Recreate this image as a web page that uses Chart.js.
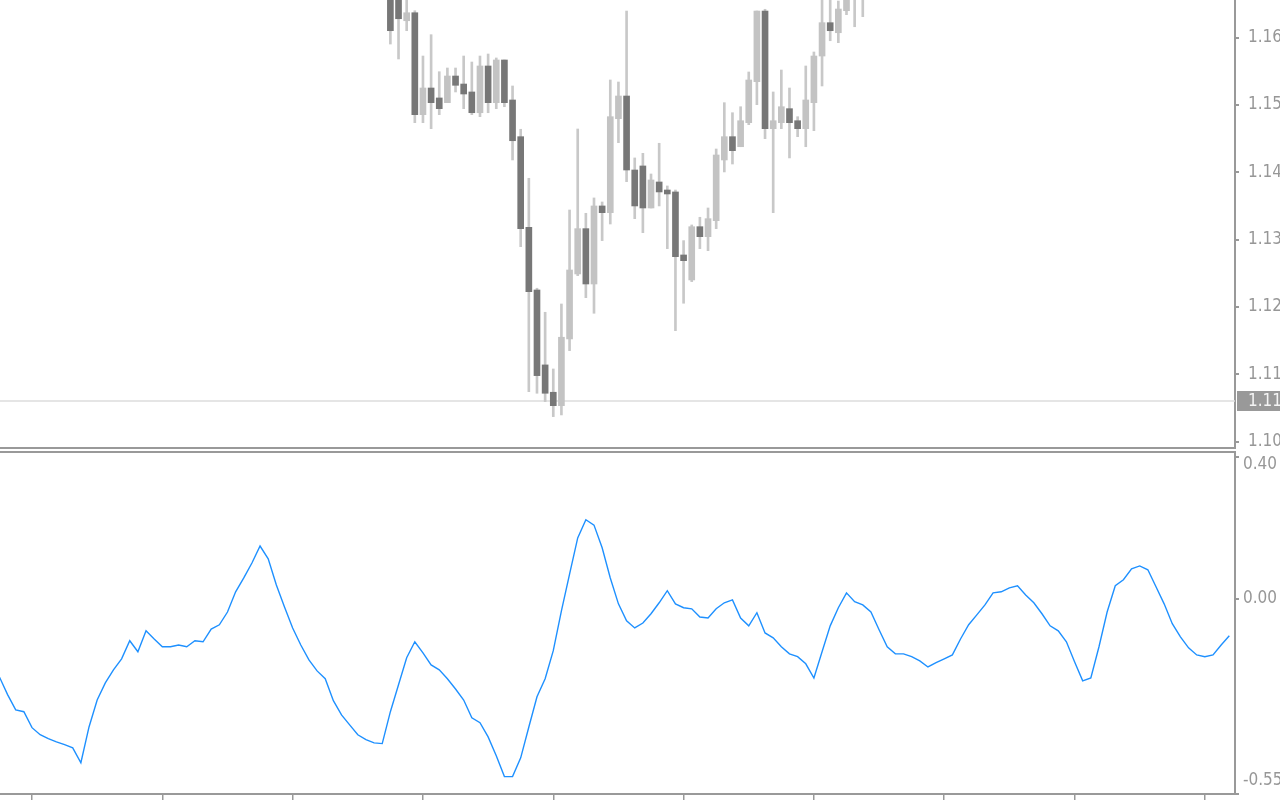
<!DOCTYPE html>
<html>
<head>
<meta charset="utf-8">
<script src="https://cdn.jsdelivr.net/npm/chart.js@4.4.1/dist/chart.umd.min.js"></script>
<style>
    body { margin: 0; background: #fff; width: 1280px; height: 800px; overflow: hidden; position: relative; }
    canvas { position: absolute; left: 0; }
    #price-chart { top: 0; }
    #osc-chart { top: 450px; }
</style>
</head>
<body>
<canvas id="price-chart" width="1280" height="449"></canvas>
<canvas id="osc-chart" width="1280" height="350"></canvas>
<script>
// candles (bar index -> OHLC)
const candleBars = [44, 45, 46, 47, 48, 49, 50, 51, 52, 53, 54, 55, 56, 57, 58, 59, 60, 61, 62, 63,
    64, 65, 66, 67, 68, 69, 70, 71, 72, 73, 74, 75, 76, 77, 78, 79, 80, 81, 82, 83,
    84, 85, 86, 87, 88, 89, 90, 91, 92, 93, 94, 95, 96, 97, 98, 99, 100, 101, 102];
const opens = [1.1688, 1.1674, 1.16252, 1.16371, 1.14857, 1.15253, 1.15105, 1.15035, 1.15431, 1.15312,
    1.15194, 1.14886, 1.15580, 1.15035, 1.15669, 1.15075, 1.14530, 1.13184, 1.12253, 1.11140,
    1.10734, 1.10535, 1.11526, 1.12491, 1.13164, 1.12342, 1.13501, 1.13401, 1.14797, 1.15134,
    1.14035, 1.14095, 1.13471, 1.13857, 1.13738, 1.13709, 1.12773, 1.12402, 1.13193, 1.13045,
    1.13282, 1.14184, 1.14530, 1.14381, 1.14738, 1.15347, 1.16396, 1.14649, 1.14738, 1.14946,
    1.14767, 1.14649, 1.15035, 1.15728, 1.16223, 1.16074, 1.16401, 1.1680, 1.1688];
const highs = [1.1702, 1.1690, 1.1668, 1.16401, 1.15728, 1.16045, 1.15495, 1.15550, 1.15550, 1.15728,
    1.15639, 1.15728, 1.15758, 1.15699, 1.15669, 1.15283, 1.14640, 1.13912, 1.12279, 1.11922,
    1.11080, 1.12045, 1.13441, 1.14644, 1.13392, 1.13620, 1.13560, 1.15372, 1.15342, 1.16396,
    1.14214, 1.14283, 1.13976, 1.14432, 1.13798, 1.13738, 1.12986, 1.13219, 1.13333, 1.13471,
    1.14347, 1.15035, 1.14886, 1.14975, 1.15491, 1.16396, 1.16422, 1.15194, 1.15520, 1.15253,
    1.14827, 1.15580, 1.15788, 1.1668, 1.1670, 1.16545, 1.1685, 1.1702, 1.1710];
const lows = [1.15906, 1.15684, 1.16104, 1.14738, 1.14738, 1.14649, 1.14857, 1.15035, 1.15194, 1.14946,
    1.14857, 1.14827, 1.14886, 1.14946, 1.14975, 1.14184, 1.12896, 1.10743, 1.10719, 1.10595,
    1.10372, 1.10397, 1.11352, 1.12466, 1.12139, 1.11907, 1.12986, 1.13233, 1.14441, 1.13862,
    1.13312, 1.13104, 1.13471, 1.13501, 1.12867, 1.11649, 1.12056, 1.12377, 1.12867, 1.12837,
    1.13164, 1.14006, 1.14124, 1.14381, 1.14708, 1.15005, 1.14500, 1.13401, 1.14649, 1.14214,
    1.14530, 1.14381, 1.14619, 1.15283, 1.15955, 1.15926, 1.16342, 1.16163, 1.16312];
const closes = [1.16104, 1.16282, 1.16371, 1.14857, 1.15253, 1.15035, 1.14946, 1.15431, 1.15293, 1.15164,
    1.14886, 1.15580, 1.15035, 1.15669, 1.15035, 1.14470, 1.13164, 1.12228, 1.10981, 1.10719,
    1.10535, 1.11551, 1.12550, 1.13164, 1.12342, 1.13501, 1.13401, 1.14827, 1.15134, 1.14035,
    1.13501, 1.13471, 1.13887, 1.13709, 1.13679, 1.12748, 1.12688, 1.13193, 1.13045, 1.13312,
    1.14258, 1.14530, 1.14322, 1.14767, 1.15372, 1.16396, 1.14649, 1.14767, 1.14975, 1.14738,
    1.14649, 1.15075, 1.15728, 1.16223, 1.16104, 1.16426, 1.1672, 1.1688, 1.1698];

// oscillator, one value per bar starting at bar -4
const oscFirstBar = -4;
const oscValues = [-0.220, -0.270, -0.313, -0.318, -0.363, -0.383, -0.394, -0.403, -0.411, -0.420,
    -0.462, -0.361, -0.285, -0.237, -0.200, -0.169, -0.118, -0.149, -0.090, -0.113,
    -0.135, -0.135, -0.130, -0.135, -0.118, -0.121, -0.085, -0.073, -0.037, 0.020,
    0.059, 0.101, 0.149, 0.113, 0.039, -0.023, -0.082, -0.130, -0.172, -0.203,
    -0.225, -0.287, -0.327, -0.355, -0.383, -0.397, -0.406, -0.408, -0.318, -0.242,
    -0.166, -0.121, -0.152, -0.186, -0.200, -0.225, -0.254, -0.285, -0.335, -0.349,
    -0.389, -0.442, -0.501, -0.501, -0.448, -0.361, -0.276, -0.225, -0.146, -0.034,
    0.070, 0.172, 0.223, 0.208, 0.144, 0.059, -0.014, -0.062, -0.082, -0.068,
    -0.042, -0.011, 0.023, -0.014, -0.025, -0.028, -0.051, -0.054, -0.028, -0.011,
    -0.003, -0.054, -0.076, -0.039, -0.096, -0.110, -0.135, -0.155, -0.163, -0.183,
    -0.223, -0.149, -0.076, -0.025, 0.017, -0.008, -0.017, -0.037, -0.087, -0.135,
    -0.155, -0.155, -0.163, -0.175, -0.192, -0.180, -0.169, -0.158, -0.113, -0.073,
    -0.045, -0.017, 0.017, 0.020, 0.031, 0.037, 0.011, -0.011, -0.042, -0.076,
    -0.090, -0.121, -0.177, -0.231, -0.223, -0.135, -0.037, 0.037, 0.054, 0.085,
    0.093, 0.082, 0.034, -0.014, -0.070, -0.107, -0.138, -0.158, -0.163, -0.158,
    -0.130, -0.104];

const priceTicks = [1.10, 1.11, 1.12, 1.13, 1.14, 1.15, 1.16];
const oscTicks = [0.40, 0.00, -0.55];
const oscTickLabels = ['0.40', '0.00', '-0.55'];
const timeTicks = [0, 16, 32, 48, 64, 80, 96, 112, 128, 144];
const bidPrice = 1.10604;
const bidText = '1.11045';

const fontFamily = "'DejaVu Sans Condensed', 'DejaVu Sans', sans-serif";
const axisFont = { family: fontFamily, size: 17 };
const axisColor = '#999999';
const labelColor = '#979797';
const axisBorder = { display: true, color: axisColor, width: 2 };
const barMin = -3.93, barMax = 147.7;

const bidLabelPlugin = {
    id: 'bidLabel',
    afterDraw(chart) {
        const { ctx, scales: { y } } = chart;
        const py = y.getPixelForValue(bidPrice);
        ctx.save();
        ctx.fillStyle = '#999999';
        ctx.fillRect(y.left + 2, py - 10, chart.width - y.left - 2, 20);
        ctx.fillStyle = '#f4f4f4';
        ctx.font = `17px ${fontFamily}`;
        ctx.textBaseline = 'middle';
        ctx.fillText(bidText, y.left + 13, py + 1);
        ctx.restore();
    }
};

const oscLabelPlugin = {
    id: 'oscLabels',
    afterDraw(chart) {
        const { ctx, scales: { y } } = chart;
        ctx.save();
        ctx.font = `17px ${fontFamily}`;
        ctx.fillStyle = labelColor;
        ctx.textBaseline = 'middle';
        oscTicks.forEach((v, i) => {
            const py = Math.min(Math.max(y.getPixelForValue(v), y.top + 13), y.bottom - 13);
            ctx.fillText(oscTickLabels[i], y.left + 8, py);
        });
        ctx.restore();
    }
};

const bodyData = candleBars.map((b, i) => ({ x: b, y: [opens[i], closes[i]] }));
const wickData = candleBars.map((b, i) => ({ x: b, y: [lows[i], highs[i]] }));
const bodyColors = candleBars.map((b, i) => closes[i] < opens[i] ? '#777777' : '#c3c3c3');

window.priceChart = new Chart(document.getElementById('price-chart').getContext('2d'), {
    type: 'bar',
    data: {
        datasets: [
            { type: 'line', data: [{ x: -5, y: bidPrice }, { x: 150, y: bidPrice }], borderColor: '#dcdcdc', borderWidth: 1.5, pointRadius: 0, order: 3, clip: 0 },
            { data: wickData, backgroundColor: '#c8c8c8', barThickness: 2, grouped: false, order: 2 },
            { data: bodyData, backgroundColor: bodyColors, barThickness: 6, grouped: false, minBarLength: 1, order: 1 }
        ]
    },
    options: {
        responsive: false,
        animation: false,
        events: [],
        layout: { padding: 0, autoPadding: false },
        plugins: { legend: { display: false }, tooltip: { enabled: false } },
        scales: {
            x: {
                type: 'linear', min: barMin, max: barMax, offset: false,
                ticks: { display: false },
                grid: { display: false },
                border: axisBorder,
                afterFit: s => { s.height = 1; s.paddingLeft = 0; s.paddingRight = 0; }
            },
            y: {
                position: 'right', min: 1.09906, max: 1.16560,
                afterBuildTicks: s => { s.ticks = priceTicks.map(v => ({ value: v })); },
                ticks: { callback: v => v.toFixed(5), color: labelColor, font: axisFont, padding: 9 },
                grid: { drawOnChartArea: false, tickLength: 4, color: axisColor, lineWidth: 2 },
                border: axisBorder,
                afterFit: s => { s.width = 45; s.paddingTop = 0; s.paddingBottom = 0; }
            }
        }
    },
    plugins: [bidLabelPlugin]
});

window.oscChart = new Chart(document.getElementById('osc-chart').getContext('2d'), {
    type: 'line',
    data: {
        datasets: [{
            data: oscValues.map((v, i) => ({ x: oscFirstBar + i, y: v })),
            borderColor: '#1e90ff',
            borderWidth: 1.4,
            pointRadius: 0,
            tension: 0
        }]
    },
    options: {
        responsive: false,
        animation: false,
        events: [],
        layout: { padding: 0, autoPadding: false },
        plugins: { legend: { display: false }, tooltip: { enabled: false } },
        scales: {
            x: {
                type: 'linear', min: barMin, max: barMax, offset: false,
                afterBuildTicks: s => { s.ticks = timeTicks.map(v => ({ value: v })); },
                ticks: { display: false },
                grid: { drawOnChartArea: false, drawTicks: true, tickLength: 6, color: axisColor, lineWidth: 1.5 },
                border: axisBorder,
                afterFit: s => { s.height = 6; s.paddingLeft = 0; s.paddingRight = 0; }
            },
            xTop: {
                type: 'linear', position: 'top', min: barMin, max: barMax, offset: false,
                afterBuildTicks: s => { s.ticks = []; },
                ticks: { display: false },
                grid: { display: false },
                border: axisBorder,
                afterFit: s => { s.height = 2; s.paddingLeft = 0; s.paddingRight = 0; }
            },
            y: {
                position: 'right', min: -0.55, max: 0.414,
                afterBuildTicks: s => { s.ticks = oscTicks.map(v => ({ value: v })); },
                ticks: { display: false },
                grid: { drawOnChartArea: false, tickLength: 4, color: axisColor, lineWidth: 2 },
                border: axisBorder,
                afterFit: s => { s.width = 45; s.paddingTop = 0; s.paddingBottom = 0; }
            }
        }
    },
    plugins: [oscLabelPlugin]
});
</script>
</body>
</html>
